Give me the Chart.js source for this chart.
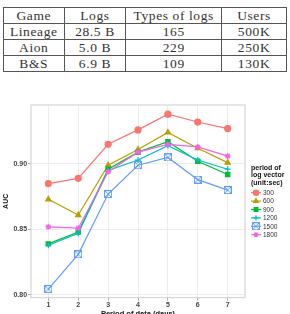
<!DOCTYPE html>
<html>
<head>
<meta charset="utf-8">
<script src="https://cdn.jsdelivr.net/npm/chart.js@4"></script>
<style>
  html, body { margin: 0; padding: 0; background: #fff; }
  body { width: 290px; height: 314px; position: relative; overflow: hidden; }
  #tbl {
    position: absolute; left: 3px; top: 7px; width: 284px;
    border-collapse: collapse; border: 1.5px solid #444;
  }
  #tbl td {
    border: 1px solid #555; text-align: center; height: 15px; padding: 0; line-height: 15px;
    font-family: 'Liberation Serif', serif; font-weight: normal;
    font-size: 13.5px; letter-spacing: 0.6px; color: #333;
  }
  #wrap { position: absolute; left: 0; top: 80px; width: 290px; height: 234px; }
</style>
</head>
<body>
<table id="tbl"></table>
<div id="wrap"><canvas id="c"></canvas></div>
<script>
// table data
const headers = ['Game', 'Logs', 'Types of logs', 'Users'];
const games = ['Lineage', 'Aion', 'B&S'];
const logs = ['28.5 B', '5.0 B', '6.9 B'];
const logTypes = ['165', '229', '109'];
const users = ['500K', '250K', '130K'];

// chart data
const days = [1, 2, 3, 4, 5, 6, 7];
const periods = ['300', '600', '900', '1200', '1500', '1800'];
const auc300 = [0.885, 0.889, 0.915, 0.926, 0.938, 0.932, 0.927];
const auc600 = [0.873, 0.861, 0.899, 0.911, 0.924, 0.912, 0.901];
const auc900 = [0.839, 0.848, 0.896, 0.909, 0.917, 0.902, 0.892];
const auc1200 = [0.838, 0.847, 0.895, 0.903, 0.914, 0.903, 0.896];
const auc1500 = [0.8045, 0.831, 0.877, 0.899, 0.905, 0.888, 0.880];
const auc1800 = [0.852, 0.851, 0.894, 0.909, 0.915, 0.913, 0.906];
const yTicks = [0.80, 0.85, 0.90];

// build table
const widths = ['60px', '62px', '97px', '65px'];
const tbl = document.getElementById('tbl');
const rows = [headers].concat(games.map((g, i) => [g, logs[i], logTypes[i], users[i]]));
rows.forEach(r => {
  const tr = document.createElement('tr');
  r.forEach((t, j) => {
    const td = document.createElement('td');
    td.textContent = t;
    td.style.width = widths[j];
    tr.appendChild(td);
  });
  tbl.appendChild(tr);
});

// square with x marker
function boxX(color) {
  const c = document.createElement('canvas');
  c.width = 8; c.height = 8;
  const g = c.getContext('2d');
  g.strokeStyle = color;
  g.lineWidth = 1;
  g.strokeRect(0.5, 0.5, 7, 7);
  g.beginPath();
  g.moveTo(0.5, 0.5); g.lineTo(7.5, 7.5);
  g.moveTo(7.5, 0.5); g.lineTo(0.5, 7.5);
  g.stroke();
  return c;
}

const colors = ['#F8766D', '#B79F00', '#00BA38', '#00BFC4', '#619CFF', '#F564E3'];
const styles = ['circle', 'triangle', 'rect', 'cross', boxX('#619CFF'), 'star'];
const series = [auc300, auc600, auc900, auc1200, auc1500, auc1800];

const datasets = series.map((vals, i) => ({
  label: periods[i],
  data: days.map((d, k) => ({ x: d, y: vals[k] })),
  borderColor: colors[i],
  backgroundColor: colors[i],
  borderWidth: 1.2,
  pointStyle: styles[i],
  pointRadius: 3,
  pointBorderWidth: 1.2,
  order: 6 - i,
}));

const panel = {
  id: 'panel',
  beforeDatasetsDraw(chart) {
    const a = chart.chartArea, ctx = chart.ctx;
    ctx.save();
    ctx.strokeStyle = '#d6d6d6';
    ctx.lineWidth = 1.2;
    ctx.strokeRect(a.left, a.top, a.right - a.left, a.bottom - a.top);
    ctx.restore();
  },
  afterDraw(chart) {
    const ctx = chart.ctx;
    ctx.save();
    ctx.fillStyle = '#111';
    ctx.textBaseline = 'middle';
    ctx.textAlign = 'left';
    ctx.font = 'bold 7px "Liberation Sans", Arial, sans-serif';
    ['period of', 'log vector', '(unit:sec)'].forEach((t, i) => ctx.fillText(t, 251, 88 + i * 7.5));
    ctx.font = '6.5px "Liberation Sans", Arial, sans-serif';
    chart.data.datasets.forEach((ds, i) => {
      const y = 112.7 + i * 8.4;
      ctx.strokeStyle = ds.borderColor;
      ctx.fillStyle = ds.backgroundColor;
      ctx.lineWidth = 1.2;
      ctx.beginPath();
      ctx.moveTo(251, y); ctx.lineTo(261, y);
      ctx.stroke();
      Chart.helpers.drawPoint(ctx, { pointStyle: ds.pointStyle, radius: 2.6, borderWidth: 1.2, rotation: 0 }, 256, y);
      ctx.fillStyle = '#333';
      ctx.fillText(ds.label, 263, y + 0.5);
    });
    ctx.restore();
  }
};

new Chart(document.getElementById('c'), {
  type: 'line',
  data: { datasets },
  plugins: [panel],
  options: {
    responsive: true,
    maintainAspectRatio: false,
    animation: false,
    layout: { padding: { left: 2, right: 45, top: 25, bottom: -4 } },
    plugins: { legend: { display: false }, tooltip: { enabled: false } },
    scales: {
      x: {
        type: 'linear',
        min: 0.42,
        max: 7.58,
        afterBuildTicks: ax => { ax.ticks = days.map(v => ({ value: v })); },
        grid: { color: '#ececec', lineWidth: 1, tickLength: 3, tickColor: '#aaa' },
        border: { display: false },
        ticks: { color: '#444', padding: 0, font: { family: 'Liberation Sans', size: 7, weight: 'bold' } },
        title: {
          display: true, text: 'Period of data (days)', color: '#111',
          font: { family: 'Liberation Sans', size: 7.5, weight: 'bold' }, padding: { top: 0, bottom: 0 }
        }
      },
      y: {
        min: 0.798,
        max: 0.945,
        afterBuildTicks: ax => { ax.ticks = yTicks.map(v => ({ value: v })); },
        grid: { color: '#ececec', lineWidth: 1, tickLength: 3, tickColor: '#aaa' },
        border: { display: false },
        ticks: {
          color: '#444', padding: 1, font: { family: 'Liberation Sans', size: 7, weight: 'bold' },
          callback: v => v.toFixed(2)
        },
        title: {
          display: true, text: 'AUC', color: '#111',
          font: { family: 'Liberation Sans', size: 7, weight: 'bold' }, padding: { top: 0, bottom: 2 }
        }
      }
    }
  }
});
</script>
</body>
</html>
